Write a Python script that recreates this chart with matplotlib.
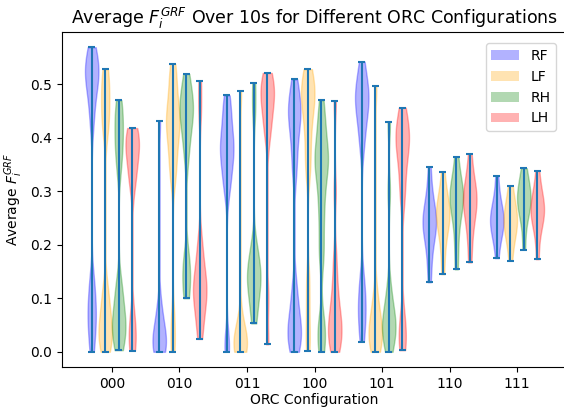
import numpy as np
import matplotlib
matplotlib.use("Agg")
import matplotlib.pyplot as plt
from matplotlib.patches import Patch

configs = ["000", "010", "011", "100", "101", "110", "111"]
legs = ["RF", "LF", "RH", "LH"]
leg_colors = ["blue", "orange", "green", "red"]

RF_samples = [
    [0.0, 0.02, 0.04, 0.06, 0.07, 0.08, 0.10, 0.12, 0.14,
     0.42, 0.45, 0.47, 0.49, 0.50, 0.51, 0.52, 0.52, 0.53, 0.54, 0.55, 0.56, 0.569],
    [0.0, 0.0, 0.005, 0.01, 0.015, 0.02, 0.03, 0.04, 0.05, 0.07, 0.09, 0.432],
    [0.0, 0.02, 0.30, 0.32, 0.34, 0.36, 0.37, 0.38, 0.39, 0.40, 0.42, 0.44, 0.46, 0.479],
    [0.0, 0.01, 0.02, 0.03, 0.04, 0.05, 0.06, 0.08, 0.10, 0.13,
     0.33, 0.36, 0.39, 0.41, 0.43, 0.44, 0.45, 0.46, 0.47, 0.49, 0.509],
    [0.019, 0.05, 0.07, 0.09, 0.11, 0.14,
     0.38, 0.41, 0.43, 0.45, 0.46, 0.47, 0.48, 0.49, 0.50, 0.52, 0.542],
    [0.130, 0.17, 0.20, 0.22, 0.23, 0.24, 0.245, 0.25, 0.26, 0.28, 0.30, 0.346],
    [0.175, 0.22, 0.235, 0.24, 0.245, 0.25, 0.26, 0.28, 0.328],
]
LF_samples = [
    [0.0, 0.01, 0.02, 0.03, 0.04, 0.05, 0.06, 0.08, 0.10, 0.12,
     0.41, 0.43, 0.45, 0.47, 0.49, 0.51, 0.528],
    [0.0, 0.03, 0.07, 0.32, 0.34, 0.36, 0.38, 0.40, 0.41, 0.42, 0.43, 0.44,
     0.45, 0.46, 0.48, 0.50, 0.52, 0.538],
    [0.0, 0.0, 0.005, 0.01, 0.015, 0.02, 0.03, 0.04, 0.06, 0.487],
    [0.002, 0.04, 0.09, 0.14, 0.33, 0.36, 0.39, 0.42, 0.44, 0.46, 0.47, 0.48,
     0.49, 0.50, 0.52, 0.528],
    [0.0, 0.01, 0.02, 0.03, 0.04, 0.05, 0.06, 0.08, 0.11, 0.497],
    [0.145, 0.19, 0.22, 0.24, 0.25, 0.255, 0.26, 0.27, 0.28, 0.30, 0.336],
    [0.170, 0.21, 0.23, 0.24, 0.245, 0.25, 0.26, 0.28, 0.310],
]
RH_samples = [
    [0.003, 0.015, 0.03, 0.04, 0.05, 0.06, 0.07, 0.09, 0.11, 0.13,
     0.34, 0.37, 0.39, 0.41, 0.43, 0.45, 0.470],
    [0.10, 0.12, 0.14, 0.16, 0.18, 0.36, 0.39, 0.41, 0.43, 0.44, 0.45, 0.46,
     0.47, 0.48, 0.50, 0.519],
    [0.053, 0.08, 0.10, 0.12, 0.13, 0.14, 0.15, 0.16, 0.18, 0.20, 0.45, 0.502],
    [0.0, 0.02, 0.04, 0.06, 0.17, 0.20, 0.24, 0.27, 0.30, 0.32, 0.34, 0.35,
     0.36, 0.37, 0.38, 0.40, 0.42, 0.44, 0.470],
    [0.0, 0.02, 0.03, 0.04, 0.05, 0.06, 0.07, 0.09, 0.12, 0.30, 0.429],
    [0.154, 0.20, 0.24, 0.26, 0.28, 0.285, 0.29, 0.30, 0.31, 0.33, 0.364],
    [0.191, 0.25, 0.27, 0.28, 0.285, 0.29, 0.30, 0.32, 0.343],
]
LH_samples = [
    [0.002, 0.02, 0.04, 0.07, 0.31, 0.33, 0.35, 0.37, 0.38, 0.39, 0.40,
     0.41, 0.418],
    [0.024, 0.05, 0.07, 0.09, 0.10, 0.11, 0.12, 0.13, 0.14, 0.16, 0.18,
     0.21, 0.45, 0.506],
    [0.014, 0.10, 0.40, 0.42, 0.44, 0.46, 0.47, 0.48, 0.49, 0.50, 0.51, 0.521],
    [0.0, 0.01, 0.02, 0.03, 0.04, 0.05, 0.06, 0.07, 0.09, 0.11, 0.14, 0.18,
     0.30, 0.468],
    [0.003, 0.02, 0.04, 0.07, 0.28, 0.31, 0.34, 0.36, 0.38, 0.39, 0.40,
     0.41, 0.42, 0.44, 0.456],
    [0.167, 0.21, 0.24, 0.26, 0.27, 0.28, 0.29, 0.30, 0.31, 0.33, 0.370],
    [0.173, 0.23, 0.25, 0.26, 0.265, 0.27, 0.28, 0.30, 0.338],
]
all_samples = [RF_samples, LF_samples, RH_samples, LH_samples]

BW = 0.03
offsets = [-0.3, -0.1, 0.1, 0.3]


def fixed_bw(kde):
    return BW / np.std(kde.dataset, ddof=1)


fig = plt.figure(figsize=(5.64, 4.08), dpi=100)
ax = fig.add_axes([62 / 564, 41 / 408, 505 / 564, 335 / 408])

base = np.arange(len(configs))
for samples, color, off in zip(all_samples, leg_colors, offsets):
    parts = ax.violinplot(samples, positions=base + off, widths=0.2,
                          showextrema=True, bw_method=fixed_bw)
    for body in parts["bodies"]:
        body.set_facecolor(color)
        body.set_edgecolor(color)
        body.set_alpha(0.3)
    for key in ("cbars", "cmins", "cmaxes"):
        parts[key].set_color("#1f77b4")

ax.set_xticks(base)
ax.set_xticklabels(configs)
ax.set_xlabel("ORC Configuration", labelpad=1.5)
ax.set_ylabel("Average $F_i^{GRF}$")
ax.set_title("Average $F_i^{GRF}$ Over 10s for Different ORC Configurations",
             fontsize=12.5)

handles = [Patch(facecolor=c, alpha=0.3) for c in leg_colors]
ax.legend(handles, legs, loc="upper right", borderaxespad=0.8)

fig.savefig("out.png", dpi=100)
